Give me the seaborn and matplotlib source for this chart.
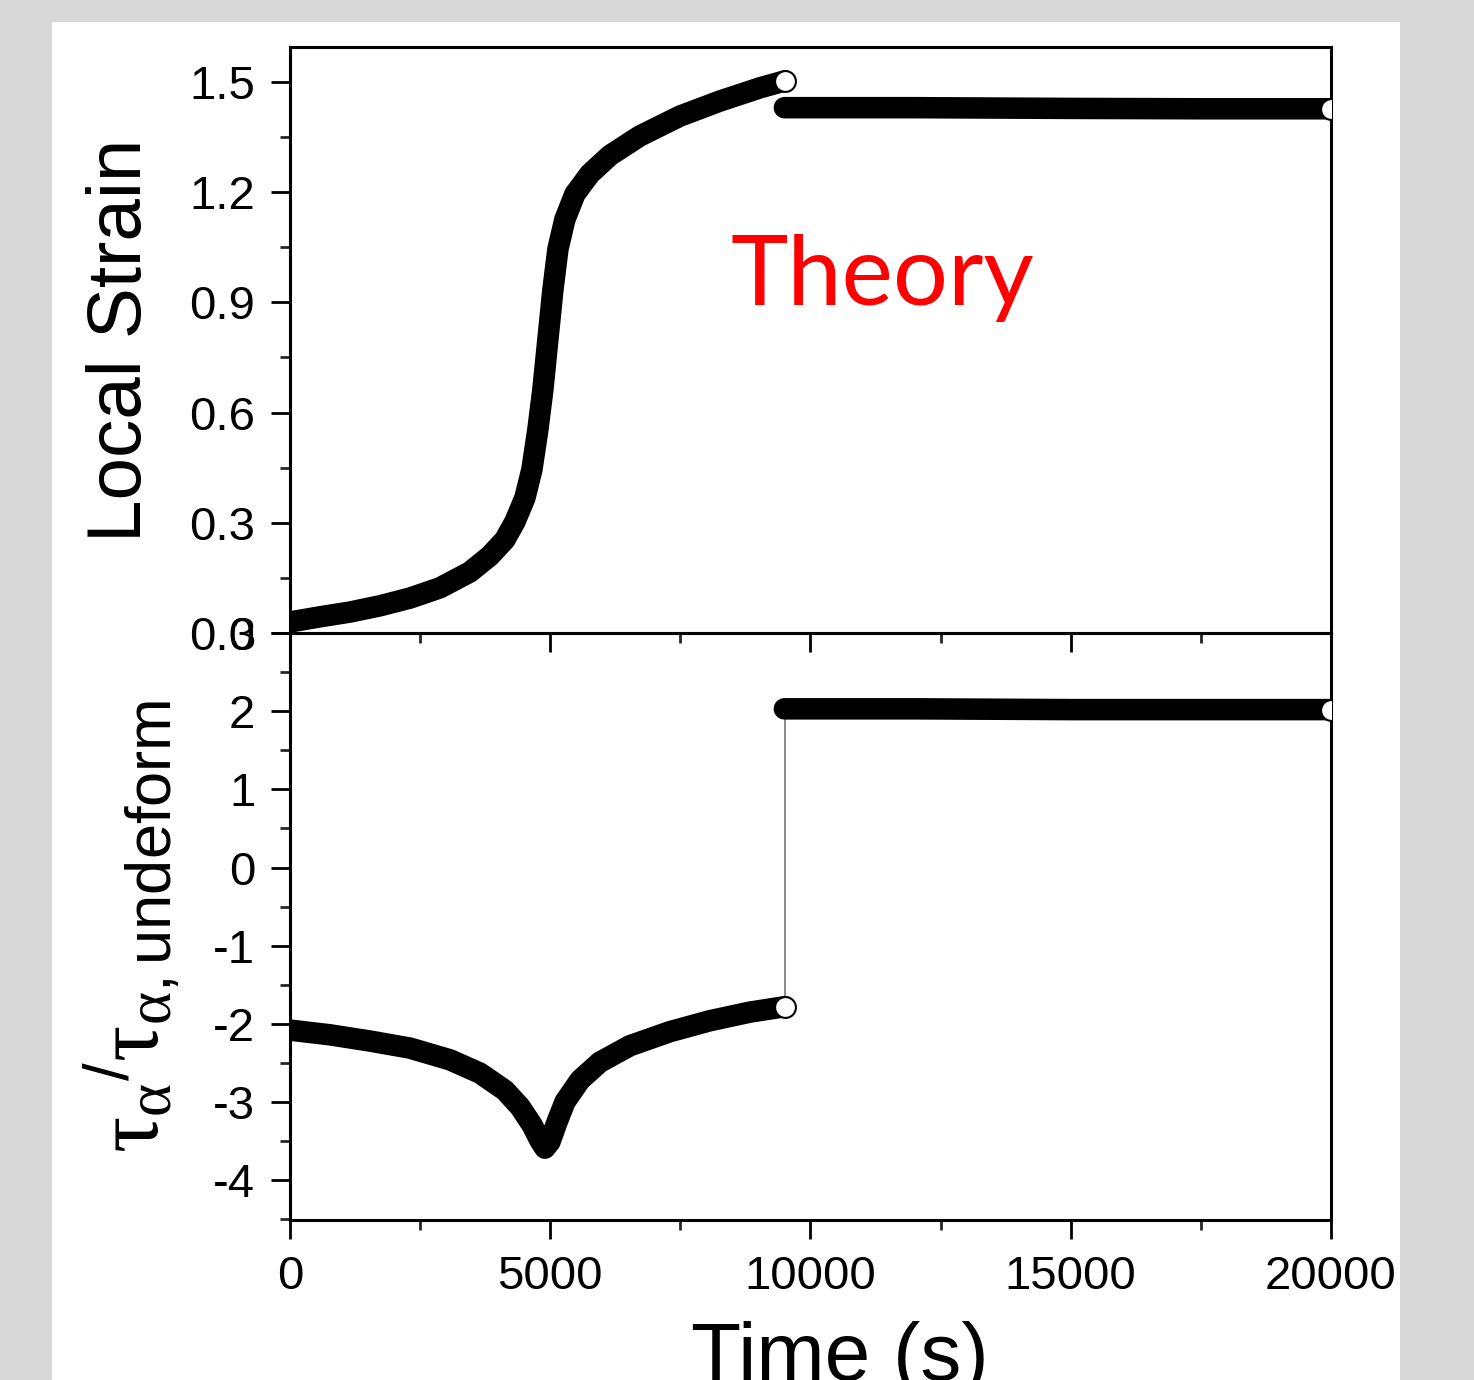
import numpy as np
import pandas as pd
import matplotlib
matplotlib.use("Agg")
import matplotlib.pyplot as plt
import seaborn as sns
from matplotlib.patches import Rectangle

sns.set_theme(style="white")
plt.rcParams['font.family'] = ['Liberation Sans', 'DejaVu Sans']
plt.rcParams['axes.unicode_minus'] = False
plt.rcParams['text.color'] = 'black'
plt.rcParams['axes.labelcolor'] = 'black'
plt.rcParams['mathtext.fontset'] = 'custom'
plt.rcParams['mathtext.rm'] = 'Liberation Sans'
plt.rcParams['mathtext.it'] = 'Liberation Serif'
plt.rcParams['mathtext.fallback'] = 'stix'

# local strain while loading
t_strain = [0, 576, 1153, 1729, 2305, 2882, 3458, 3842, 4130, 4323, 4515, 4649, 4764,
            4860, 4957, 5053, 5149, 5283, 5476, 5764, 6148, 6724, 7493, 8261, 9030, 9510]
strain = [0.03, 0.044, 0.057, 0.074, 0.095, 0.123, 0.166, 0.21, 0.254, 0.303, 0.368,
          0.445, 0.554, 0.663, 0.80, 0.935, 1.045, 1.126, 1.195, 1.25, 1.30, 1.353,
          1.407, 1.448, 1.484, 1.503]

# tau ratio while loading
t_ratio = [0, 768, 1537, 2305, 3074, 3650, 4130, 4419, 4649, 4803, 4899, 4995, 5130,
           5283, 5572, 5956, 6532, 7301, 8069, 8838, 9510]
ratio = [-2.08, -2.14, -2.22, -2.31, -2.46, -2.63, -2.85, -3.06, -3.29, -3.49, -3.59,
         -3.51, -3.26, -3.0, -2.72, -2.49, -2.28, -2.10, -1.96, -1.85, -1.78]

# after unloading
t_hold = [9500, 12000, 15000, 17500, 20000]
strain_hold = [1.43, 1.43, 1.428, 1.427, 1.427]
ratio_hold = [2.03, 2.03, 2.02, 2.02, 2.02]

df_strain = pd.DataFrame({"t": t_strain, "v": strain})
df_ratio = pd.DataFrame({"t": t_ratio, "v": ratio})
df_hold = pd.DataFrame({"t": t_hold, "strain": strain_hold, "ratio": ratio_hold})

fig = plt.figure(figsize=(14.74, 13.8), dpi=100)
fig.patch.set_facecolor("#d8d8d8")
fig.patches.append(Rectangle((52 / 1474, 0), (1400 - 52) / 1474, (1380 - 22) / 1380,
                             transform=fig.transFigure, facecolor="white",
                             edgecolor="none", zorder=-10))

ax1 = fig.add_axes([0.1967, 0.5413, 0.7062, 0.4246])
ax2 = fig.add_axes([0.1967, 0.1159, 0.7062, 0.4254], sharex=ax1)

lw = 15.5
ms = 15
line_kw = dict(color="black", linewidth=lw, solid_capstyle="round",
               solid_joinstyle="round", sort=False, estimator=None)
end_kw = dict(marker="o", ls="none", ms=ms, mfc="white", mec="black", mew=1.5, zorder=5)

sns.lineplot(data=df_strain, x="t", y="v", ax=ax1, **line_kw)
sns.lineplot(data=df_hold, x="t", y="strain", ax=ax1, **line_kw)
ax1.plot(t_strain[-1], strain[-1], **end_kw)
ax1.plot(t_hold[-1], strain_hold[-1], **end_kw)

sns.lineplot(data=df_ratio, x="t", y="v", ax=ax2, **line_kw)
sns.lineplot(data=df_hold, x="t", y="ratio", ax=ax2, **line_kw)
ax2.plot([t_ratio[-1], t_ratio[-1]], [ratio[-1], ratio_hold[0]], color="#777777",
         lw=1.2, zorder=1)
ax2.plot(t_ratio[-1], ratio[-1], **end_kw)
ax2.plot(t_hold[-1], ratio_hold[-1], **end_kw)

ax1.set_xlim(0, 20000)
ax1.set_ylim(0, 1.595)
ax1.set_yticks([0.0, 0.3, 0.6, 0.9, 1.2, 1.5])
ax1.set_yticklabels(["0.0", "0.3", "0.6", "0.9", "1.2", "1.5"])
ax1.set_yticks(np.arange(0.15, 1.6, 0.3), minor=True)
ax2.set_ylim(-4.51, 3.0)
ax2.set_yticks([-4, -3, -2, -1, 0, 1, 2, 3])
ax2.set_yticks(np.arange(-4.5, 3.0, 1.0), minor=True)
ax2.set_xticks([0, 5000, 10000, 15000, 20000])
ax2.set_xticks([2500, 7500, 12500, 17500], minor=True)
ax1.tick_params(labelbottom=False)

for ax in (ax1, ax2):
    for s in ax.spines.values():
        s.set_linewidth(2.2)
        s.set_color("black")
    ax.tick_params(which="major", direction="out", length=14, width=2.0,
                   labelsize=34, pad=11, colors="black", left=True, bottom=True)
    ax.tick_params(which="minor", direction="out", length=7, width=2.0,
                   left=True, bottom=True)
    ax.set_facecolor("none")

ax1.set_xlabel("")
ax1.set_ylabel("Local Strain", fontsize=55)
ax1.yaxis.set_label_coords(-0.128, 0.5)
ax2.set_ylabel(r"$\tau_{\alpha}{}^{/}\tau_{\alpha,\mathrm{undeform}}$", fontsize=65)
ax2.yaxis.set_label_coords(-0.105, 0.5)
ax2.set_xlabel("Time (s)", fontsize=59)
ax2.xaxis.set_label_coords(0.528, -0.172)
ax2.xaxis.label.set_va("top")

fig.text(730 / 1474, (1380 - 305) / 1380, "Theory", color="#ff0000", fontsize=70,
         family=["Lato", "DejaVu Sans"], va="baseline", ha="left")

fig.savefig("out.png", dpi=100, facecolor=fig.get_facecolor())
